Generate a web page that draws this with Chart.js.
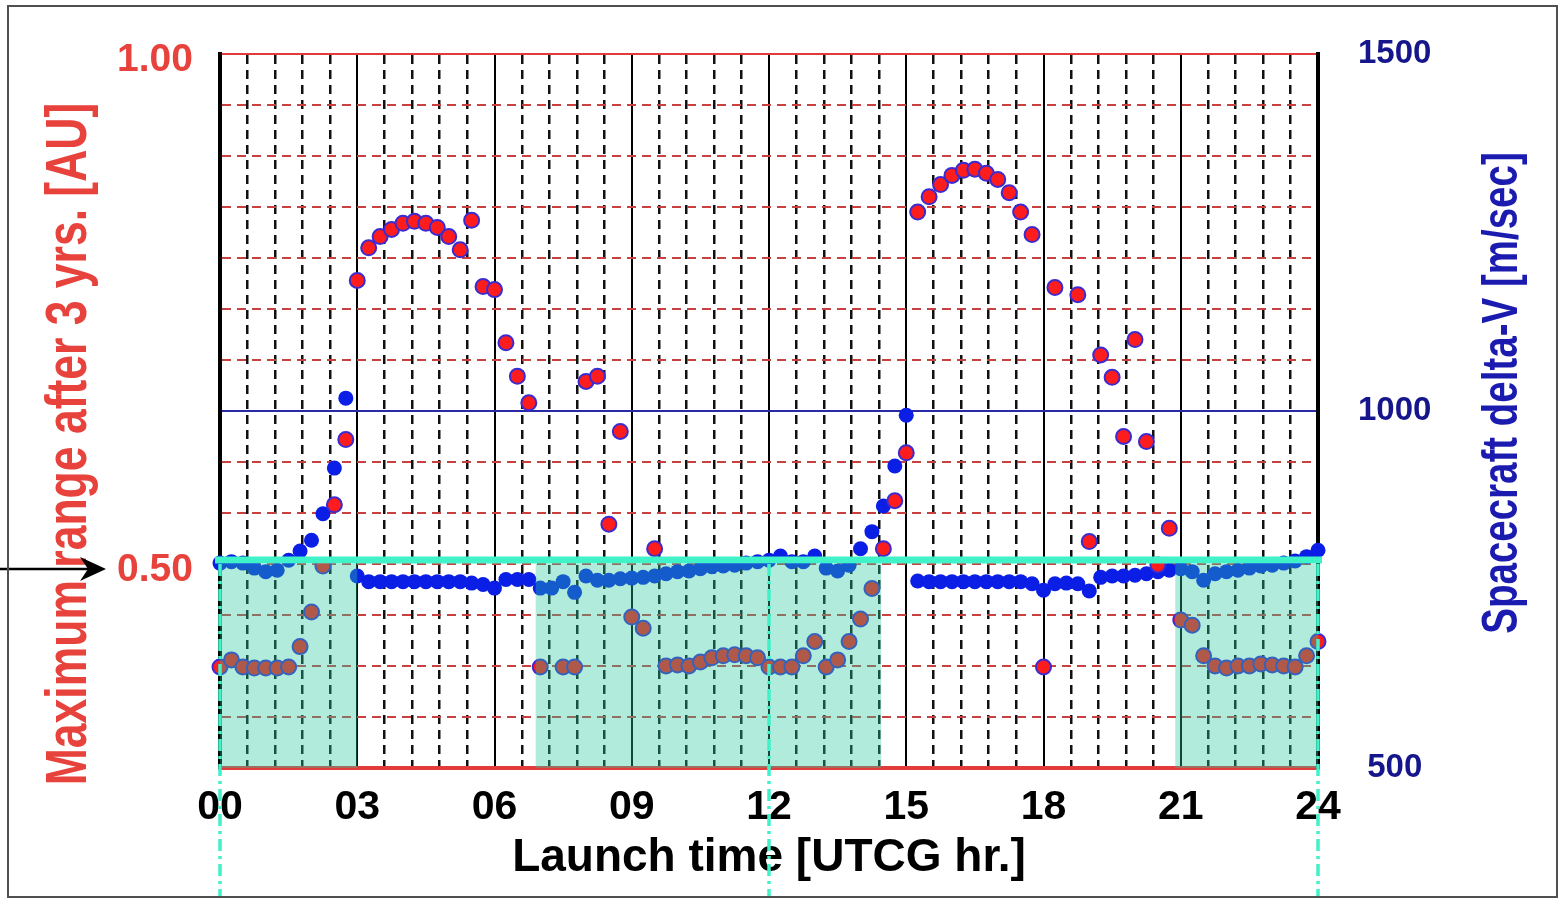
<!DOCTYPE html>
<html>
<head>
<meta charset="utf-8">
<script src="https://cdn.jsdelivr.net/npm/chart.js@4.4.1/dist/chart.umd.min.js"></script>
<style>
html,body{margin:0;padding:0;background:#fff;}
#wrap{width:1562px;height:898px;position:relative;}
</style>
</head>
<body>
<div id="wrap"><canvas id="c"></canvas></div>
<script>
// ---------------- data ----------------
const launchHours = [0,0.25,0.5,0.75,1,1.25,1.5,1.75,2,2.25,2.5,2.75,
  3,3.25,3.5,3.75,4,4.25,4.5,4.75,5,5.25,5.5,5.75,
  6,6.25,6.5,6.75,7,7.25,7.5,7.75,8,8.25,8.5,8.75,
  9,9.25,9.5,9.75,10,10.25,10.5,10.75,11,11.25,11.5,11.75,
  12,12.25,12.5,12.75,13,13.25,13.5,13.75,14,14.25,14.5,14.75,
  15,15.25,15.5,15.75,16,16.25,16.5,16.75,17,17.25,17.5,17.75,
  18,18.25,18.5,18.75,19,19.25,19.5,19.75,20,20.25,20.5,20.75,
  21,21.25,21.5,21.75,22,22.25,22.5,22.75,23,23.25,23.5,23.75,24];

const maxRangeAU = [0.399,0.406,0.399,0.398,0.398,0.398,0.399,0.419,0.453,0.498,0.558,0.622,
  0.778,0.810,0.821,0.828,0.834,0.836,0.834,0.830,0.821,0.808,0.837,0.772,
  0.769,0.717,0.684,0.658,0.399,null,0.399,0.399,0.679,0.684,0.539,0.630,
  0.448,0.437,0.515,0.400,0.401,0.400,0.404,0.408,0.410,0.411,0.410,0.408,
  0.399,0.399,0.399,0.410,0.424,0.399,0.406,0.424,0.446,0.476,0.515,0.562,
  0.609,0.845,0.860,0.872,0.881,0.886,0.887,0.883,0.877,0.864,0.845,0.823,
  0.399,0.771,null,0.764,0.522,0.705,0.683,0.625,0.720,0.620,0.499,0.535,
  0.445,0.440,0.410,0.400,0.398,0.400,0.400,0.402,0.401,0.400,0.399,0.410,
  0.424];

const deltaV = [787,789,787,780,775,777,791,804,819,856,920,1018,
  769,761,761,761,761,761,761,761,761,761,759,757,
  752,764,764,764,752,752,761,746,769,763,763,765,
  766,767,769,772,775,776,779,782,783,784,787,789,
  791,797,789,789,797,780,776,784,807,831,867,923,
  994,762,761,761,761,761,761,761,761,761,761,758,
  749,758,759,758,748,767,769,769,770,772,775,777,
  779,775,763,772,775,777,780,783,784,787,790,796,
  805];

const xTickLabels = ['00','03','06','09','12','15','18','21','24'];
const leftTickValues = [0.5, 1.0];
const leftTickLabels = ['0.50','1.00'];
const rightTickValues = [500, 1000, 1500];
const rightTickLabels = ['500','1000','1500'];
const xTitle = 'Launch time [UTCG hr.]';
const leftTitle = 'Maximum range after 3 yrs. [AU]';
const rightTitle = 'Spacecraft delta-V [m/sec]';

// annotation values
const shadedSpans = [[0, 3], [6.9, 14.45], [20.88, 24]];
const shadeTopAU = 0.50;
const thresholdAU = 0.504;
const markerHours = [0, 12, 24];

// ---------------- styling ----------------
const FONT = '"Liberation Sans", Arial, Helvetica, sans-serif';
const RED = '#e8423c';
const NAVY = '#16168c';
const TITLE_BLUE = '#1b1bb0';
const CYAN = 'rgb(64,242,200)';

const near = (a, b) => Math.abs(a - b) < 1e-6;
const isMult3 = v => Math.abs(v / 3 - Math.round(v / 3)) < 1e-6;

const overlayPlugin = {
  id: 'overlay',
  beforeDraw(chart) {
    const {ctx, width, height} = chart;
    ctx.save();
    ctx.fillStyle = '#ffffff';
    ctx.fillRect(0, 0, width, height);
    ctx.restore();
  },
  afterDatasetsDraw(chart) {
    const {ctx, chartArea: ca, scales} = chart;
    const x = scales.x, y = scales.y;
    ctx.save();
    // shaded windows
    ctx.fillStyle = 'rgba(40,200,155,0.36)';
    const yTop = y.getPixelForValue(shadeTopAU);
    const yBot = ca.bottom;
    shadedSpans.forEach(([a, b]) => {
      const xa = x.getPixelForValue(a), xb = x.getPixelForValue(b);
      ctx.fillRect(xa, yTop, xb - xa, yBot - yTop);
    });
    // threshold line
    const yt = y.getPixelForValue(thresholdAU);
    ctx.strokeStyle = CYAN;
    ctx.lineWidth = 7;
    ctx.beginPath();
    ctx.moveTo(ca.left - 5, yt);
    ctx.lineTo(ca.right + 4, yt);
    ctx.stroke();
    // vertical dash-dot markers
    ctx.lineWidth = 3.5;
    ctx.setLineDash([12, 5, 3, 5]);
    markerHours.forEach(h => {
      const xp = x.getPixelForValue(h);
      ctx.beginPath();
      ctx.moveTo(xp, yt + 4);
      ctx.lineTo(xp, chart.height);
      ctx.stroke();
    });
    ctx.restore();
  },
  afterDraw(chart) {
    const {ctx, chartArea: ca, scales} = chart;
    const midY = (ca.top + ca.bottom) / 2;
    // vertical titles (bottom-to-top)
    const drawV = (text, cx, cy, size, color) => {
      ctx.save();
      ctx.translate(cx, cy);
      ctx.scale(1.3, 1);
      ctx.rotate(-Math.PI / 2);
      ctx.font = 'bold ' + size + 'px ' + FONT;
      ctx.fillStyle = color;
      ctx.textAlign = 'center';
      ctx.textBaseline = 'middle';
      ctx.fillText(text, 0, 0);
      ctx.restore();
    };
    drawV(leftTitle, 70, midY + 33, 44.5, RED);
    drawV(rightTitle, 1503, midY - 18, 38.5, TITLE_BLUE);

    // arrow pointing to the 0.50 label
    const ay = scales.y.getPixelForValue(0.5) + 5;
    ctx.save();
    ctx.strokeStyle = '#000';
    ctx.fillStyle = '#000';
    ctx.lineWidth = 2.5;
    ctx.beginPath();
    ctx.moveTo(0, ay);
    ctx.lineTo(92, ay);
    ctx.stroke();
    ctx.beginPath();
    ctx.moveTo(106, ay);
    ctx.lineTo(80, ay - 12);
    ctx.lineTo(88, ay);
    ctx.lineTo(80, ay + 12);
    ctx.closePath();
    ctx.fill();
    // outer frame
    ctx.strokeStyle = '#505050';
    ctx.lineWidth = 2;
    ctx.strokeRect(8, 6, 1549, 891);
    ctx.restore();
  }
};

const redPoints = launchHours.map((h, i) => ({x: h, y: maxRangeAU[i]}));
const bluePoints = launchHours.map((h, i) => ({x: h, y: deltaV[i]}));

new Chart(document.getElementById('c'), {
  type: 'scatter',
  data: {
    datasets: [
      {
        label: leftTitle,
        data: redPoints,
        xAxisID: 'x',
        yAxisID: 'y',
        pointRadius: 7.5,
        pointHoverRadius: 7.5,
        pointBackgroundColor: '#ff1c1c',
        pointBorderColor: '#3b2bd0',
        pointBorderWidth: 2,
        showLine: false,
        clip: false
      },
      {
        label: rightTitle,
        data: bluePoints,
        xAxisID: 'x',
        yAxisID: 'y2',
        pointRadius: 7.5,
        pointHoverRadius: 7.5,
        pointBackgroundColor: '#0a1ee6',
        pointBorderColor: '#0a1ee6',
        pointBorderWidth: 0,
        showLine: false,
        clip: false
      }
    ]
  },
  options: {
    responsive: true,
    maintainAspectRatio: false,
    devicePixelRatio: 1,
    animation: false,
    layout: {padding: {top: 54, left: 0, right: 0, bottom: 0}},
    plugins: {legend: {display: false}, tooltip: {enabled: false}},
    scales: {
      x: {
        type: 'linear', position: 'bottom', min: 0, max: 24,
        afterFit(s) { s.height = 130; s.paddingLeft = 0; s.paddingRight = 0; },
        ticks: {
          stepSize: 3, autoSkip: false, maxRotation: 0, minRotation: 0, padding: 15,
          color: '#000', font: {family: FONT, weight: 'bold', size: 41},
          callback: (v, i) => xTickLabels[i]
        },
        grid: {
          color: '#000',
          lineWidth: c => (c.tick && (near(c.tick.value, 0) || near(c.tick.value, 24))) ? 4 : 2,
          drawTicks: false
        },
        border: {color: '#e23b3b', width: 4},
        title: {
          display: true, text: xTitle, color: '#000',
          font: {family: FONT, weight: 'bold', size: 46},
          padding: {top: 0, bottom: 12}
        }
      },
      x2: {
        type: 'linear', position: 'top', min: 0, max: 24,
        afterFit(s) { s.height = 0; s.paddingLeft = 0; s.paddingRight = 0; },
        ticks: {display: false, stepSize: 0.6, autoSkip: false},
        grid: {
          color: c => (c.tick && isMult3(c.tick.value)) ? 'rgba(0,0,0,0)' : '#111',
          lineWidth: 2.5,
          drawTicks: false
        },
        border: {color: '#e23b3b', width: 2, dash: [9, 6]}
      },
      y: {
        type: 'linear', position: 'left', min: 0.3, max: 1.0,
        afterFit(s) { s.width = 220; s.paddingTop = 0; s.paddingBottom = 0; },
        ticks: {
          stepSize: 0.05, autoSkip: false, padding: 27, labelOffset: 6,
          color: RED, font: {family: FONT, weight: 'bold', size: 39},
          callback: v => {
            const k = leftTickValues.findIndex(t => near(t, v));
            return k >= 0 ? leftTickLabels[k] : '';
          }
        },
        grid: {
          color: c => (c.tick && (near(c.tick.value, 0.3) || near(c.tick.value, 1.0))) ? 'rgba(0,0,0,0)' : '#c84040',
          lineWidth: 2,
          drawTicks: false
        },
        border: {color: '#000', width: 4, dash: [9, 6]}
      },
      y2: {
        type: 'linear', position: 'right', min: 500, max: 1500,
        afterFit(s) { s.width = 244; s.paddingTop = 0; s.paddingBottom = 0; },
        ticks: {
          stepSize: 500, autoSkip: false, padding: 40, crossAlign: 'center',
          color: NAVY, font: {family: FONT, weight: 'bold', size: 33},
          callback: v => {
            const k = rightTickValues.findIndex(t => near(t, v));
            return k >= 0 ? rightTickLabels[k] : '';
          }
        },
        grid: {color: '#2a2aa6', lineWidth: 2, drawTicks: false, drawOnChartArea: true},
        border: {color: '#000', width: 4}
      }
    }
  },
  plugins: [overlayPlugin]
});
</script>
</body>
</html>
